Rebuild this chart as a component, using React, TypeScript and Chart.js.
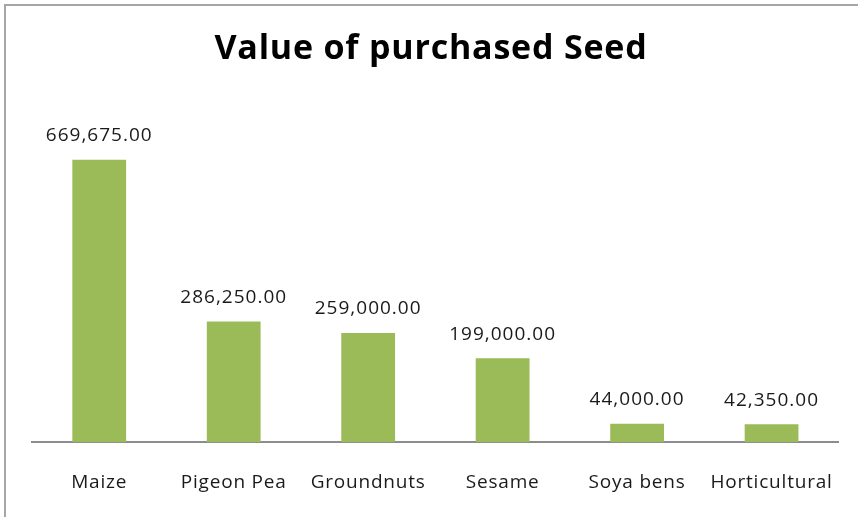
import React, { useEffect, useRef } from "react";
import { Chart, registerables } from "chart.js";

Chart.register(...registerables);

const categories = ["Maize", "Pigeon Pea", "Groundnuts", "Sesame", "Soya bens", "Horticultural"];
const values = [669675, 286250, 259000, 199000, 44000, 42350];
const chartTitle = "Value of purchased Seed";

const FONT = "'Open Sans', 'DejaVu Sans', sans-serif";

const frame = {
  id: "frame",
  beforeDraw(chart: any) {
    const ctx = chart.ctx;
    ctx.save();
    ctx.fillStyle = "#ffffff";
    ctx.fillRect(0, 0, chart.width, chart.height);
    ctx.strokeStyle = "#a6a6a6";
    ctx.lineWidth = 2;
    ctx.strokeRect(5, 5, chart.width + 20, chart.height + 20);
    ctx.restore();
    (ctx as any).letterSpacing = "0.8px";
  },
};

const valueLabels = {
  id: "valueLabels",
  afterDatasetsDraw(chart: any) {
    const ctx = chart.ctx;
    const meta = chart.getDatasetMeta(0);
    ctx.save();
    (ctx as any).letterSpacing = "1px";
    ctx.font = `19px ${FONT}`;
    ctx.fillStyle = "#1a1a1a";
    ctx.textAlign = "center";
    ctx.textBaseline = "middle";
    meta.data.forEach((bar: any, i: number) => {
      const v = chart.data.datasets[0].data[i] as number;
      const txt = v.toLocaleString("en-US", { minimumFractionDigits: 2, maximumFractionDigits: 2 });
      ctx.fillText(txt, bar.x, bar.y - 24);
    });
    ctx.restore();
  },
};

export default function App() {
  const ref = useRef<HTMLCanvasElement>(null);
  useEffect(() => {
    document.body.style.margin = "0";
    const chart = new Chart(ref.current!, {
      type: "bar",
      data: {
        labels: categories,
        datasets: [
          {
            data: values,
            backgroundColor: "#9bbb59",
            categoryPercentage: 1,
            barPercentage: 0.4,
          },
        ],
      },
      options: {
        animation: false,
        responsive: false,
        layout: { padding: { left: 22, right: 18, top: 0, bottom: -6 } },
        plugins: {
          legend: { display: false },
          tooltip: { enabled: false },
          title: {
            display: true,
            text: chartTitle,
            color: "#000000",
            font: { family: FONT, size: 34, weight: "bold", lineHeight: 1.2 },
            padding: { top: 29, bottom: 35 },
          },
        },
        scales: {
          x: {
            grid: { display: false, drawTicks: false },
            border: { color: "#8c8c8c", width: 2 },
            ticks: {
              color: "#1a1a1a",
              font: { family: FONT, size: 19, lineHeight: 1.2 },
              padding: 29,
              maxRotation: 0,
              minRotation: 0,
            },
          },
          y: {
            display: true,
            min: 0,
            max: 800000,
            grid: { display: false, drawTicks: false },
            border: { display: false },
            ticks: { display: false },
            afterFit: (s: any) => {
              s.width = 10;
            },
          },
        },
      },
      plugins: [frame, valueLabels],
    });
    return () => chart.destroy();
  }, []);
  return (
    <div style={{ width: 858, height: 517 }}>
      <canvas ref={ref} width={858} height={517} />
    </div>
  );
}
